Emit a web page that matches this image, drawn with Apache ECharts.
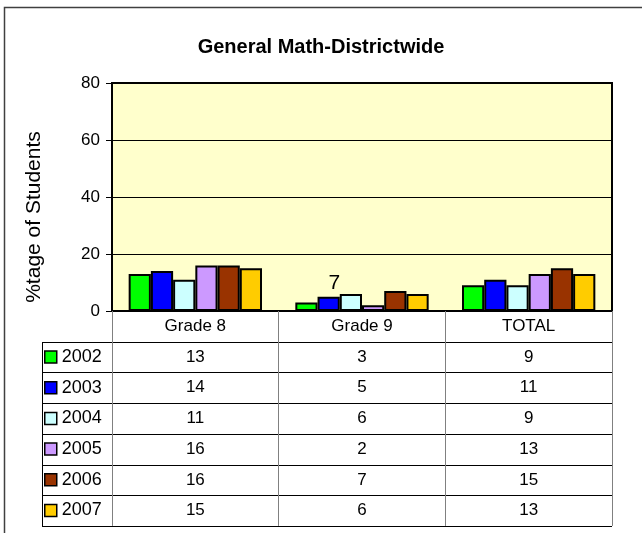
<!DOCTYPE html>
<html>
<head>
<meta charset="utf-8">
<title>General Math-Districtwide</title>
<script src="https://cdn.jsdelivr.net/npm/echarts@6/dist/echarts.min.js"></script>
<style>
  html, body { margin: 0; padding: 0; background: #fff; }
  #chart { width: 642px; height: 533px; }
</style>
</head>
<body>
<div id="chart"></div>
<script>
// 数据
const categories = ['Grade 8', 'Grade 9', 'TOTAL']
const years = ['2002', '2003', '2004', '2005', '2006', '2007']
const v2002 = [13, 3, 9]
const v2003 = [14, 5, 11]
const v2004 = [11, 6, 9]
const v2005 = [16, 2, 13]
const v2006 = [16, 7, 15]
const v2007 = [15, 6, 13]
const yTicks = [0, 20, 40, 60, 80]

const values = [v2002, v2003, v2004, v2005, v2006, v2007]
const colors = ['#00ff00', '#0000ff', '#ccffff', '#cc99ff', '#993300', '#ffcc00']

// 版面
const FONT = '"Liberation Sans", Arial, sans-serif'
const PLOT_L = 112, PLOT_R = 612, PLOT_T = 83, AXIS_Y = 311
const ROW_H = 30.7
const TABLE_L = 42

const chart = echarts.init(document.getElementById('chart'), null, { renderer: 'canvas' })

const series = years.map((y, i) => ({
  name: y,
  type: 'bar',
  xAxisIndex: 0,
  barGap: '0%',
  barCategoryGap: '20%',
  itemStyle: { color: colors[i], borderColor: '#000', borderWidth: 2 },
  data: values[i].map((v, j) => {
    // 图里 Grade 9 上方那个孤立的 "7" 是 2006 的数据标签
    if (y === '2006' && j === 1) {
      return {
        value: v,
        label: { show: true, position: 'top', offset: [-61, 8], fontSize: 21, color: '#000', fontFamily: FONT }
      }
    }
    return v
  })
}))

// 数据表：每一行用一根不显示轴线的类目轴来放数字
const tableAxes = years.map((y, i) => ({
  type: 'category',
  gridIndex: 0,
  position: 'bottom',
  offset: ROW_H * (i + 1),
  data: values[i].map(String),
  axisLine: { show: false },
  axisTick: { show: false },
  axisLabel: { fontSize: 17, color: '#000', fontFamily: FONT, margin: ROW_H / 2, verticalAlign: 'middle' }
}))

const tableLines = []
for (let i = 1; i <= years.length + 1; i++) {
  const y = Math.round(AXIS_Y + ROW_H * i) + 0.5
  tableLines.push({
    type: 'line',
    shape: { x1: TABLE_L, y1: y, x2: PLOT_R, y2: y },
    style: { stroke: '#000', lineWidth: 1 }
  })
}
tableLines.push({
  type: 'line',
  shape: { x1: TABLE_L + 0.5, y1: Math.round(AXIS_Y + ROW_H), x2: TABLE_L + 0.5, y2: Math.round(AXIS_Y + ROW_H * 7) + 1 },
  style: { stroke: '#000', lineWidth: 1 }
})

const option = {
  animation: false,
  backgroundColor: '#fff',
  title: {
    text: 'General Math-Districtwide',
    left: 'center',
    top: 37,
    padding: 0,
    textStyle: { fontSize: 20, fontWeight: 'bold', color: '#000', fontFamily: FONT }
  },
  legend: {
    orient: 'vertical',
    left: TABLE_L + 2,
    top: 348,
    padding: 0,
    itemWidth: 12,
    itemHeight: 12,
    itemGap: ROW_H - 18,
    icon: 'rect',
    selectedMode: false,
    itemStyle: { borderColor: '#000', borderWidth: 1.5 },
    textStyle: { fontSize: 18, lineHeight: 18, color: '#000', fontFamily: FONT, padding: [0, 0, 0, 0] },
    data: years
  },
  grid: {
    left: PLOT_L,
    right: 642 - PLOT_R,
    top: PLOT_T,
    bottom: 533 - AXIS_Y,
    show: true,
    backgroundColor: '#ffffcc',
    borderColor: '#000',
    borderWidth: 2
  },
  xAxis: [{
    type: 'category',
    gridIndex: 0,
    data: categories,
    axisLine: { show: true, lineStyle: { color: '#000', width: 2 } },
    axisTick: { show: true, interval: 0, length: ROW_H * 7, lineStyle: { color: '#808080', width: 1 } },
    axisLabel: { fontSize: 17, color: '#000', fontFamily: FONT, margin: ROW_H / 2, verticalAlign: 'middle' }
  }].concat(tableAxes),
  yAxis: {
    type: 'value',
    min: yTicks[0],
    max: yTicks[yTicks.length - 1],
    interval: 20,
    name: '%tage of Students',
    nameLocation: 'middle',
    nameGap: 67,
    nameTextStyle: { fontSize: 21, color: '#000', fontFamily: FONT, padding: [0, 40, 0, 0] },
    axisLine: { show: true, lineStyle: { color: '#000', width: 2 } },
    axisTick: { show: true, length: 6, lineStyle: { color: '#000' } },
    axisLabel: { fontSize: 17, color: '#000', fontFamily: FONT, margin: 12 },
    splitLine: { show: true, lineStyle: { color: '#000', width: 1 } }
  },
  graphic: [
    {
      type: 'rect',
      shape: { x: 4.5, y: 7.5, width: 700, height: 600 },
      style: { fill: 'none', stroke: '#404040', lineWidth: 1.5 },
      silent: true
    }
  ].concat(tableLines),
  series
}

option && chart.setOption(option)
</script>
</body>
</html>
